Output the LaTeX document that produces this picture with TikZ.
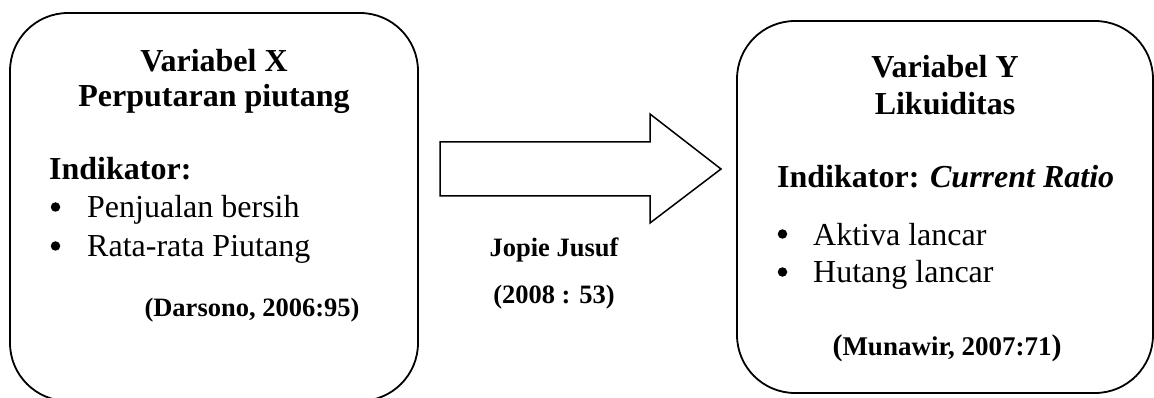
\documentclass[tikz,border=0pt]{standalone}
\usepackage{fontspec}
\setmainfont{Liberation Serif}
\begin{document}
\begin{tikzpicture}[x=1pt,y=-1pt,
  varbox/.style={draw, line width=1.8pt, rounded corners=58pt, inner sep=0pt},
  head/.style={anchor=base, inner sep=0pt, font=\fontsize{32}{33}\selectfont\bfseries},
  bodyw/.style={anchor=base west, inner sep=0pt, font=\fontsize{32}{36}\selectfont},
  boldw/.style={anchor=base west, inner sep=0pt, font=\fontsize{32}{36}\selectfont\bfseries},
  cite/.style={anchor=base, inner sep=0pt, font=\fontsize{26.5}{30}\selectfont\bfseries},
  dot/.style={circle, fill=black, inner sep=0pt, minimum size=9.5pt},
  blockarrow/.style={draw, line width=1.5pt, line join=miter, fill=white}]
\useasboundingbox (0,0) rectangle (1154,398);
\clip (0,0) rectangle (1154,398);
\fill[white] (0,0) rectangle (1154,398);
% boxes
\node[varbox, minimum width=408pt, minimum height=388pt] (bx) at (214,207) {};
\node[varbox, minimum width=416pt, minimum height=372pt] (by) at (945,207) {};
% left box text
\node[head] (vx) at (214,72) {Variabel X};
\node[head] (pp) at (214,107) {Perputaran piutang};
\node[boldw] (ix) at (49,180) {Indikator:};
\node[dot] (b1) at (55.5,207) {};
\node[bodyw] (t1) at (87,218) {Penjualan bersih};
\node[dot] (b2) at (55.5,246) {};
\node[bodyw] (t2) at (87,257) {Rata-rata Piutang};
\node[cite] (cx) at (252,316) {(Darsono, 2006:95)};
% right box text
\node[head] (vy) at (945,78) {Variabel Y};
\node[head] (lk) at (945,115) {Likuiditas};
\node[boldw] (iy) at (777,188) {Indikator: \textit{Current Ratio}};
\node[dot] (b3) at (782.5,234) {};
\node[bodyw] (t3) at (813,245) {Aktiva lancar};
\node[dot] (b4) at (782.5,272) {};
\node[bodyw] (t4) at (813,283) {Hutang lancar};
\node[cite, font=\fontsize{27}{30}\selectfont\bfseries] (cy) at (947,355) {{\fontsize{30}{30}\selectfont(}Munawir, 2007:71{\fontsize{30}{30}\selectfont)}};
% block arrow
\coordinate (a1) at (440,142);
\coordinate (a2) at (650,142);
\coordinate (a3) at (650,114);
\coordinate (a4) at (721,169);
\coordinate (a5) at (650,223);
\coordinate (a6) at (650,196);
\coordinate (a7) at (440,196);
\draw[blockarrow] (a1) -- (a2) -- (a3) -- (a4) -- (a5) -- (a6) -- (a7) -- cycle;
% middle text
\node[cite] (jj) at (554,257) {Jopie Jusuf};
\node[cite] (yr) at (554,303) {(2008 : 53)};
\end{tikzpicture}
\end{document}
